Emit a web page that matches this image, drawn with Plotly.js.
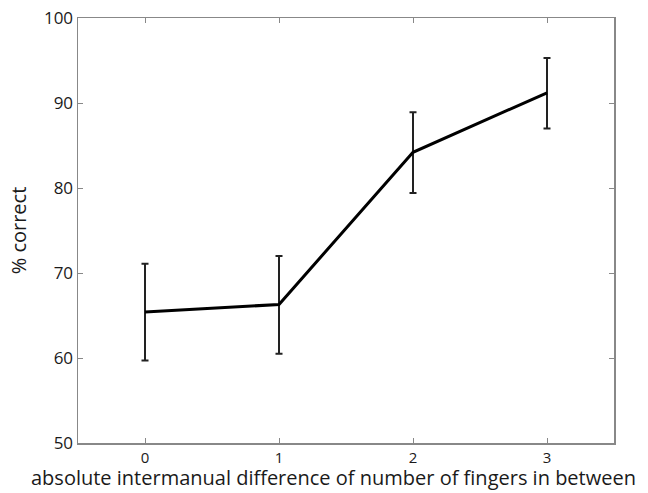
<!DOCTYPE html>
<html>
<head>
<meta charset="utf-8">
<script src="https://cdn.plot.ly/plotly-3.0.1.min.js"></script>
<style>html,body{margin:0;padding:0;background:#fff;}#chart{width:648px;height:493px;}</style>
</head>
<body>
<div id="chart"></div>
<script>
const xValues = [0, 1, 2, 3];
const meanCorrect = [65.4, 66.3, 84.2, 91.2];
const errUpper = [71.1, 72.0, 88.9, 95.3];
const errLower = [59.7, 60.5, 79.4, 87.0];
const xTickVals = [0, 1, 2, 3];
const yTickVals = [50, 60, 70, 80, 90, 100];
const xTitle = 'absolute intermanual difference of number of fingers in between';
const yTitle = '% correct';

const plus = errUpper.map((u, i) => u - meanCorrect[i]);
const minus = errLower.map((l, i) => meanCorrect[i] - l);

const font = "'Open Sans', 'Noto Sans', sans-serif";

const trace = {
  x: xValues,
  y: meanCorrect,
  type: 'scatter',
  mode: 'lines',
  line: {color: '#000000', width: 3},
  error_y: {
    type: 'data',
    symmetric: false,
    array: plus,
    arrayminus: minus,
    color: '#222222',
    thickness: 2,
    width: 3.5
  },
  hoverinfo: 'none'
};

const layout = {
  width: 648,
  height: 493,
  margin: {l: 78, r: 34, t: 18, b: 50},
  paper_bgcolor: '#ffffff',
  plot_bgcolor: '#ffffff',
  showlegend: false,
  font: {family: font, size: 17, color: '#1a1a1a'},
  xaxis: {
    range: [-0.5, 3.5],
    tickvals: xTickVals,
    ticktext: xTickVals.map(String),
    ticks: 'inside',
    ticklen: 5,
    tickwidth: 1,
    tickcolor: '#888888',
    showline: true,
    linecolor: '#888888',
    linewidth: 1.5,
    mirror: 'allticks',
    showgrid: false,
    zeroline: false,
    automargin: false,
    tickfont: {family: font, size: 15, color: '#1a1a1a'}
  },
  yaxis: {
    range: [50, 100],
    tickvals: yTickVals,
    ticks: 'inside',
    ticklen: 5,
    tickwidth: 1,
    tickcolor: '#888888',
    showline: true,
    linecolor: '#888888',
    linewidth: 1.5,
    mirror: 'allticks',
    showgrid: false,
    zeroline: false,
    automargin: false,
    tickfont: {family: font, size: 17, color: '#1a1a1a'},
    title: {text: yTitle, font: {family: font, size: 20, color: '#1a1a1a'}, standoff: 12}
  },
  annotations: [{
    text: xTitle,
    xref: 'paper', yref: 'paper',
    x: 0.476, y: -50 / 425,
    xanchor: 'center', yanchor: 'bottom',
    yshift: 1,
    showarrow: false,
    borderpad: 0,
    font: {family: font, size: 20, color: '#1a1a1a'}
  }]
};

Plotly.newPlot('chart', [trace], layout, {staticPlot: true, displayModeBar: false});
</script>
</body>
</html>
